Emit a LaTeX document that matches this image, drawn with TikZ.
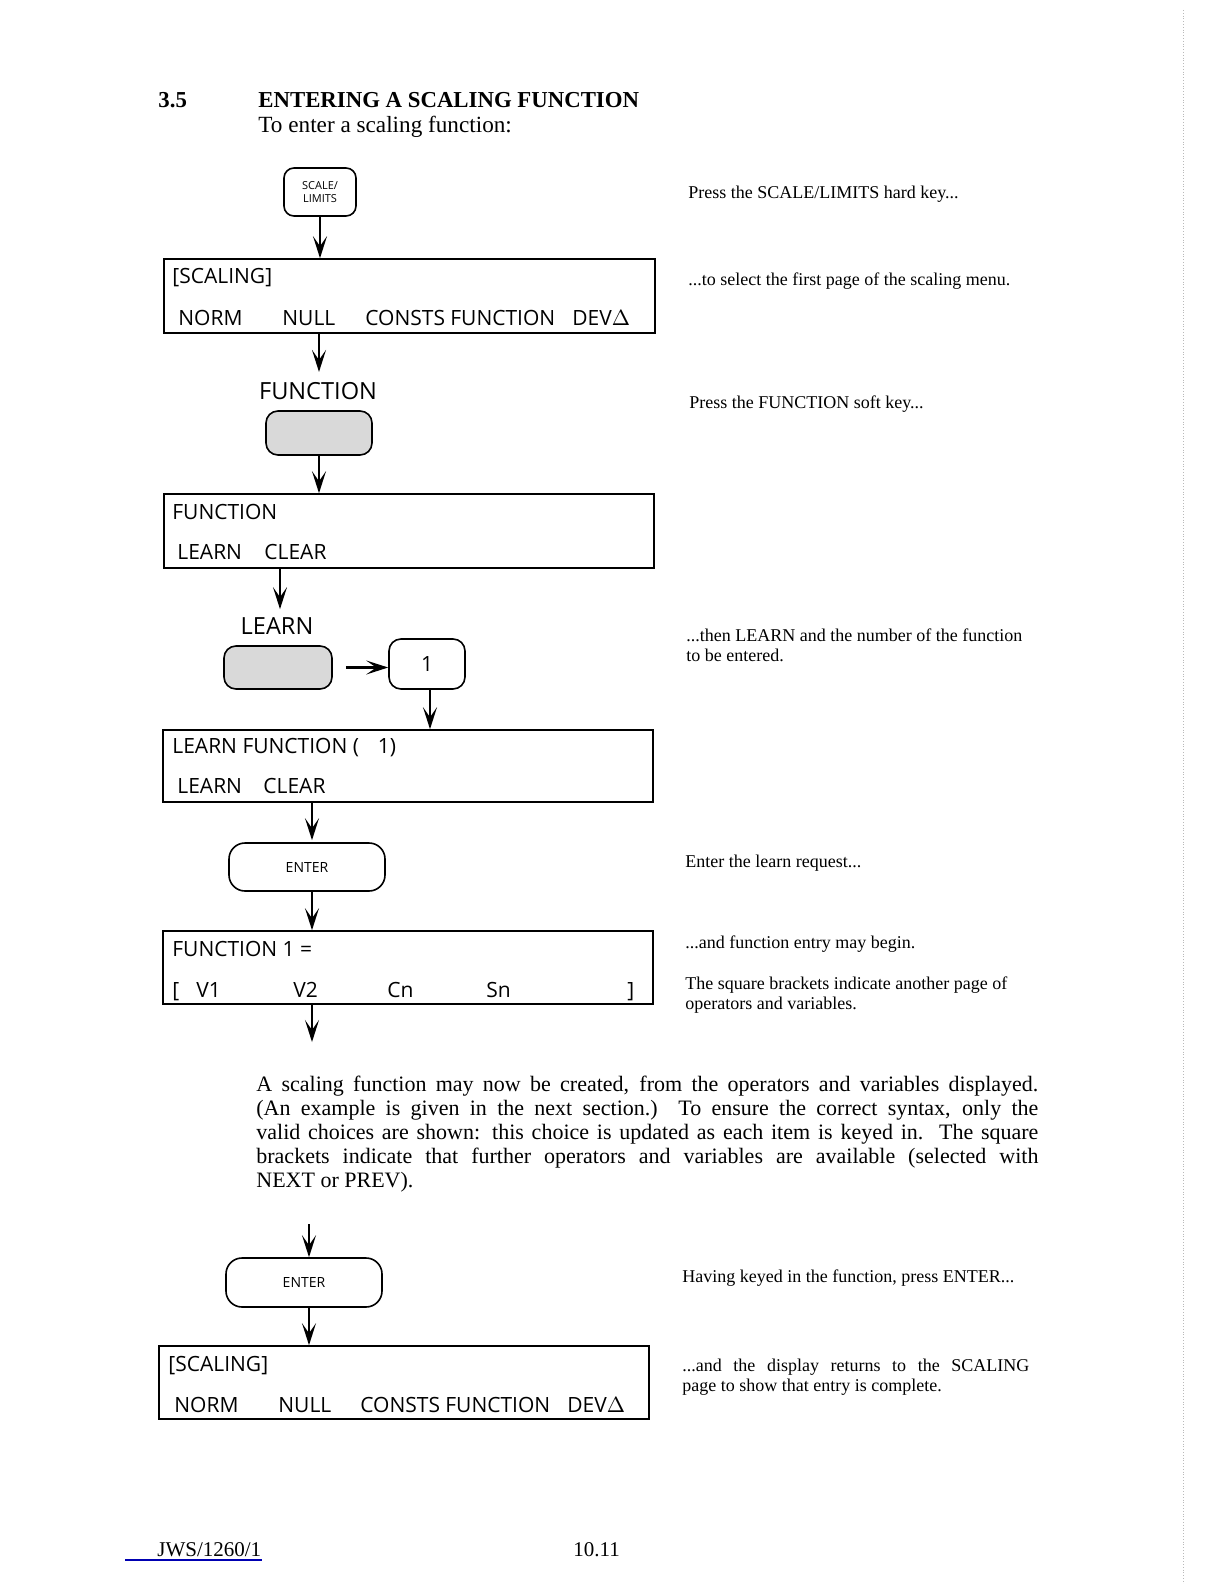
\documentclass[tikz,border=0pt]{standalone}
\usepackage{fontspec}
\setmainfont{Liberation Serif}
\newfontfamily\lcdfont{Open Sans}
\usetikzlibrary{arrows.meta}
\tikzset{
  lcd/.style={font=\lcdfont\fontsize{10.5}{12}\selectfont, anchor=base west, inner sep=0pt},
  keylabel/.style={font=\lcdfont\fontsize{11.8}{14}\selectfont, inner sep=0pt},
  note/.style={font=\fontsize{9}{10}\selectfont, anchor=base west, inner sep=0pt},
  display/.style={draw, line width=0.8pt, rectangle, inner sep=0pt},
  hardkey/.style={draw, line width=0.8pt, rounded corners=5pt, inner sep=0pt, fill=white},
  softkey/.style={draw, line width=0.8pt, rounded corners=6pt, inner sep=0pt, fill=gray!30},
  flow/.style={line width=1.1pt, -{Stealth[length=11pt,width=7pt,inset=5pt]}},
}
\begin{document}
\begin{tikzpicture}[x=0.5pt,y=-0.5pt]
\useasboundingbox (0,0) rectangle (1224,1584);

% faint page edge
\draw[gray!55, densely dotted, line width=0.4pt] (1183,10) -- (1183,1584);

% column coordinates for vertical connectors
\coordinate (x280) at (280,0);
\coordinate (x312) at (312,0);
\coordinate (x430) at (430,0);

% heading
\node[anchor=base west, inner sep=0pt, font=\bfseries\fontsize{11.4}{12}\selectfont] (secno) at (158,108) {3.5};
\node[anchor=base west, inner sep=0pt, font=\bfseries\fontsize{11.4}{12}\selectfont] (title) at (258,108) {ENTERING A SCALING FUNCTION};
\node[anchor=base west, inner sep=0pt, font=\fontsize{11.6}{12}\selectfont] (intro) at (258,133) {To enter a scaling function:};

% ---------- keys and displays ----------
\node[hardkey, minimum width=36pt, minimum height=24pt, align=center,
      font=\lcdfont\fontsize{5.5}{6.5}\selectfont] (sl) at (320,192) {SCALE/\\LIMITS};

\node[display, minimum width=245.5pt, minimum height=37pt] (box1) at (409.5,296) {};
\node[lcd] (b1a) at (172,283) {[SCALING]};
\node[lcd] (b1b) at (178,325) {NORM};
\node[lcd] (b1c) at (282,325) {NULL};
\node[lcd] (b1d) at (365,325) {CONSTS};
\node[lcd] (b1e) at (450,325) {FUNCTION};
\node[lcd] (b1f) at (572,325) {DEV$\Delta$};

\node[keylabel] (flab) at (318,391) {FUNCTION};
\node[softkey, minimum width=53pt, minimum height=22pt] (fkey) at (319,433) {};

\node[display, minimum width=245pt, minimum height=37pt] (box2) at (409,531) {};
\node[lcd] (b2a) at (172,519) {FUNCTION};
\node[lcd] (b2b) at (177,559) {LEARN};
\node[lcd] (b2c) at (264,559) {CLEAR};

\node[keylabel] (llab) at (277,626) {LEARN};
\node[softkey, minimum width=54pt, minimum height=21.5pt] (lkey) at (278,667.5) {};
\node[hardkey, rounded corners=6pt, minimum width=38pt, minimum height=25pt,
      font=\lcdfont\fontsize{10.5}{12}\selectfont] (one) at (427,664) {1};

\node[display, minimum width=245pt, minimum height=36pt] (box3) at (408,766) {};
\node[lcd] (b3a) at (172,753) {LEARN FUNCTION (\hspace{0.9em}1)};
\node[lcd] (b3b) at (177,793) {LEARN};
\node[lcd] (b3c) at (263,793) {CLEAR};

\node[hardkey, rounded corners=8pt, minimum width=78pt, minimum height=24pt,
      font=\lcdfont\fontsize{7}{8}\selectfont] (enter1) at (307,867) {ENTER};

\node[display, minimum width=245pt, minimum height=36.5pt] (box4) at (408,967.5) {};
\node[lcd] (b4a) at (172,956) {FUNCTION 1 =};
\node[lcd] (b4b) at (172,997) {[};
\node[lcd] (b4c) at (196,997) {V1};
\node[lcd] (b4d) at (293,997) {V2};
\node[lcd] (b4e) at (387,997) {Cn};
\node[lcd] (b4f) at (486,997) {Sn};
\node[lcd] (b4g) at (627,997) {]};

\coordinate (out4) at (312,1042);
\coordinate (in5) at (309,1224);

\node[hardkey, rounded corners=8pt, minimum width=78pt, minimum height=24.5pt,
      font=\lcdfont\fontsize{7}{8}\selectfont] (enter2) at (304,1282.5) {ENTER};

\node[display, minimum width=245pt, minimum height=36.5pt] (box5) at (404,1382.5) {};
\node[lcd] (b5a) at (168,1371) {[SCALING]};
\node[lcd] (b5b) at (174,1412) {NORM};
\node[lcd] (b5c) at (278,1412) {NULL};
\node[lcd] (b5d) at (360,1412) {CONSTS};
\node[lcd] (b5e) at (445,1412) {FUNCTION};
\node[lcd] (b5f) at (567,1412) {DEV$\Delta$};

% ---------- connectors ----------
\draw[flow] (sl.south) -- (sl.south |- box1.north);
\draw[flow] (box1.south -| fkey) -- ([yshift=5pt]flab.north -| fkey);
\draw[flow] (fkey.south) -- (fkey.south |- box2.north);
\draw[flow] (box2.south -| x280) -- ([yshift=4pt]llab.north -| x280);
\draw[flow, shorten <=6.5pt] (lkey.east) -- (one.west |- lkey.east);
\draw[flow] (one.south -| x430) -- (box3.north -| x430);
\draw[flow] (box3.south -| x312) -- ([yshift=1pt]enter1.north -| x312);
\draw[flow] (enter1.south -| x312) -- (box4.north -| x312);
\draw[flow] (box4.south -| out4) -- (out4);
\draw[flow] (in5) -- (enter2.north -| in5);
\draw[flow] (enter2.south -| in5) -- (box5.north -| in5);

% ---------- paragraph ----------
\node[anchor=north west, inner sep=0pt, align=left,
      font=\fontsize{11}{12}\selectfont] (para) at (256,1076) {%
\makebox[391pt][s]{A scaling function may now be created, from the operators and variables displayed.}\\
\makebox[391pt][s]{(An example is given in the next section.)\ \ To ensure the correct syntax, only the}\\
\makebox[391pt][s]{valid choices are shown: this choice is updated as each item is keyed in.\ \ The square}\\
\makebox[391pt][s]{brackets indicate that further operators and variables are available (selected with}\\
NEXT or PREV).};

% ---------- notes ----------
\node[note] (n1) at (688,198) {Press the SCALE/LIMITS hard key...};
\node[note] (n2) at (688,285) {...to select the first page of the scaling menu.};
\node[note] (n3) at (689,408) {Press the FUNCTION soft key...};
\node[note] (n4) at (686,641) {...then LEARN and the number of the function};
\node[note] (n5) at (686,661) {to be entered.};
\node[note] (n6) at (685,867) {Enter the learn request...};
\node[note] (n7) at (685,948) {...and function entry may begin.};
\node[note] (n8) at (685,989) {The square brackets indicate another page of};
\node[note] (n9) at (685,1009) {operators and variables.};
\node[note] (n10) at (682,1282) {Having keyed in the function, press ENTER...};
\node[note] (n11) at (682,1371) {\makebox[173.5pt][s]{...and the display returns to the SCALING}};
\node[note] (n12) at (682,1391) {page to show that entry is complete.};

% ---------- footer ----------
\node[anchor=base west, inner sep=0pt, font=\fontsize{10.5}{12}\selectfont] (ref) at (157,1556) {JWS/1260/1};
\coordinate (ulstart) at (125,1560);
\draw[blue!70!black, line width=0.6pt] (ulstart) -- (ulstart -| ref.east);
\node[anchor=base west, inner sep=0pt, font=\fontsize{10.5}{12}\selectfont] (pg) at (573,1556) {10.11};
\end{tikzpicture}
\end{document}
